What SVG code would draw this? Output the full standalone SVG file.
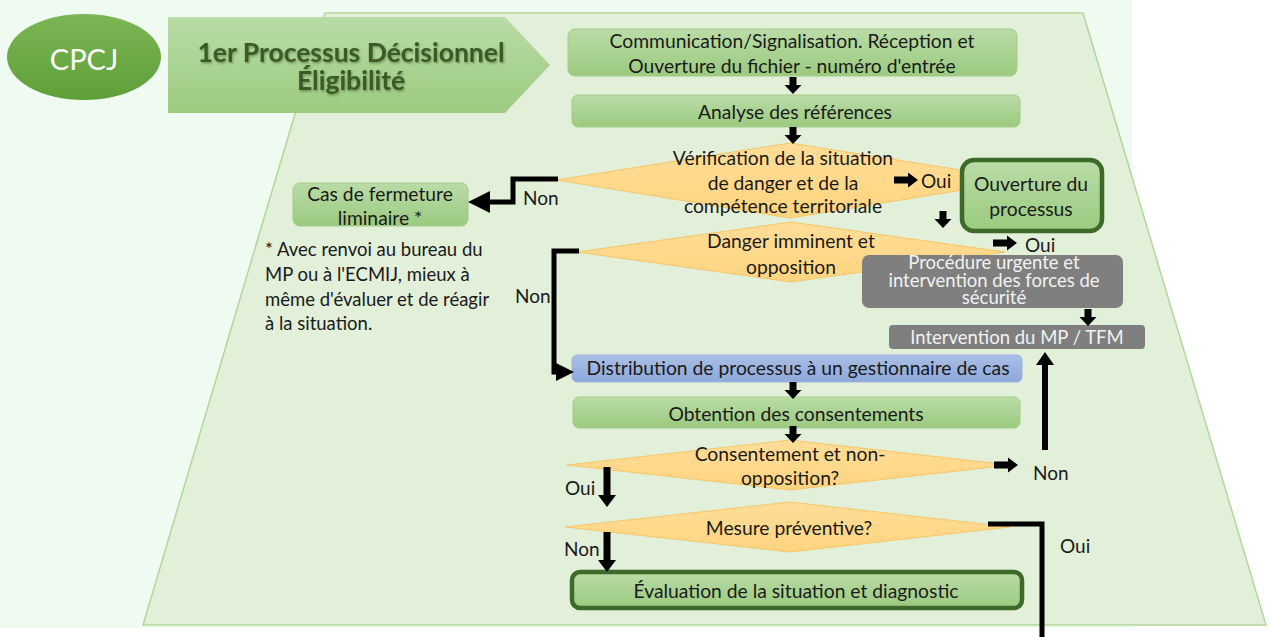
<svg xmlns="http://www.w3.org/2000/svg" xmlns:xlink="http://www.w3.org/1999/xlink" width="1270" height="637" viewBox="0 0 1270 637">
  <defs>
    <linearGradient id="gGreen" x1="0" y1="0" x2="0" y2="1">
      <stop offset="0" stop-color="#badca7"/>
      <stop offset="1" stop-color="#9bca7f"/>
    </linearGradient>
    <linearGradient id="gTitle" x1="0" y1="0" x2="0" y2="1">
      <stop offset="0" stop-color="#b9dca6"/>
      <stop offset="1" stop-color="#9ccb80"/>
    </linearGradient>
    <linearGradient id="gOrange" x1="0" y1="0" x2="0" y2="1">
      <stop offset="0" stop-color="#ffdd98"/>
      <stop offset="1" stop-color="#ffd47f"/>
    </linearGradient>
    <linearGradient id="gBlue" x1="0" y1="0" x2="0" y2="1">
      <stop offset="0" stop-color="#aabfe6"/>
      <stop offset="1" stop-color="#8da8da"/>
    </linearGradient>
    <linearGradient id="gCpcj" x1="0" y1="0" x2="0" y2="1">
      <stop offset="0" stop-color="#7bb654"/>
      <stop offset="1" stop-color="#5f9f38"/>
    </linearGradient>
    <filter id="tshadow" x="-5%" y="-20%" width="110%" height="140%">
      <feDropShadow dx="1" dy="1.5" stdDeviation="1" flood-color="#2a3f1a" flood-opacity="0.45"/>
    </filter>
    <!-- short block arrows, drawn from the origin -->
    <path id="dn" d="M-3.5,0 H3.5 V8 H8.5 L0,17 L-8.5,8 H-3.5 Z"/>
    <path id="rt" d="M0,-3.5 H14 V-7.5 L24,0 L14,7.5 V3.5 H0 Z"/>
    <path id="dnLong" d="M-3.5,0 H3.5 V28 H9 L0,40 L-9,28 H-3.5 Z"/>
    <marker id="head" markerUnits="userSpaceOnUse" markerWidth="24" markerHeight="24" refX="0" refY="11" orient="auto">
      <path d="M0,0 L22,11 L0,22 Z" fill="#000"/>
    </marker>
    <marker id="headSm" markerUnits="userSpaceOnUse" markerWidth="20" markerHeight="20" refX="0" refY="9" orient="auto">
      <path d="M0,0 L18,9 L0,18 Z" fill="#000"/>
    </marker>
    <marker id="headUp" markerUnits="userSpaceOnUse" markerWidth="20" markerHeight="20" refX="0" refY="9" orient="auto">
      <path d="M0,0 L13,9 L0,18 Z" fill="#000"/>
    </marker>
  </defs>
  <style>
    text { font-family: Lato, "Liberation Sans", sans-serif; fill: #1a1a1a; }
    .c { text-anchor: middle; dominant-baseline: central; }
    .l { dominant-baseline: central; }
    .t17 { font-size: 19.3px; }
    .lbl { font-size: 19px; }
    .note { font-size: 18.5px; }
    .box { fill: url(#gGreen); stroke: #a2cd88; stroke-width: 1; }
    .boxStrong { fill: url(#gGreen); stroke: #3d6a29; stroke-width: 4.5; }
    .dia { fill: url(#gOrange); stroke: #f6c768; stroke-width: 1; }
    .gray { fill: #7f7f7f; }
    .grayText { fill: #f2f2f2; font-size: 18.5px; }
    .conn { fill: none; stroke: #000; stroke-width: 5; }
    .blk { fill: #000; }
  </style>

  <!-- page background -->
  <rect x="0" y="0" width="1270" height="637" fill="#ffffff"/>
  <rect x="0" y="0" width="1132" height="628" fill="#effbf1"/>

  <!-- trapezoid panel -->
  <polygon points="325,13 1083,13 1266,625 143,625" fill="#e2efd9" stroke="#b3d79b" stroke-width="1.5"/>

  <!-- CPCJ badge -->
  <g id="cpcj">
    <ellipse cx="84" cy="57" rx="77" ry="43" fill="url(#gCpcj)"/>
    <text class="c" x="84" y="58" style="font-size:29px; fill:#ffffff">CPCJ</text>
  </g>

  <!-- title chevron -->
  <g id="title">
    <polygon points="168,17 505,17 550,65 505,113 168,113" fill="url(#gTitle)"/>
    <g filter="url(#tshadow)">
      <text class="c" x="351" y="52" style="font-size:26.5px; font-weight:bold; fill:#3a5a26">1er Processus Décisionnel</text>
      <text class="c" x="351" y="80" style="font-size:26.5px; font-weight:bold; fill:#3a5a26">Éligibilité</text>
    </g>
  </g>

  <!-- process boxes -->
  <g id="reception">
    <rect class="box" x="568" y="29" width="449" height="47" rx="7"/>
    <text class="c t17" x="792" y="40">Communication/Signalisation. Réception et</text>
    <text class="c t17" x="792" y="65">Ouverture du fichier - numéro d'entrée</text>
  </g>
  <g id="analyse">
    <rect class="box" x="572" y="95" width="448" height="32" rx="6"/>
    <text class="c t17" x="795" y="111">Analyse des références</text>
  </g>

  <g id="verification">
    <polygon class="dia" points="556,180 790,143 1024,180 790,218"/>
    <text class="c t17" x="783" y="157">Vérification de la situation</text>
    <text class="c t17" x="783" y="182">de danger et de la</text>
    <text class="c t17" x="783" y="205">compétence territoriale</text>
  </g>

  <g id="fermeture">
    <rect class="box" x="293" y="183" width="175" height="43" rx="7"/>
    <text class="c t17" x="380" y="193">Cas de fermeture</text>
    <text class="c t17" x="380" y="217">liminaire *</text>
  </g>

  <g id="ouverture">
    <rect class="boxStrong" x="962" y="160" width="140" height="71" rx="12"/>
    <text class="c t17" x="1031" y="183">Ouverture du</text>
    <text class="c t17" x="1031" y="208">processus</text>
  </g>

  <g id="danger">
    <polygon class="dia" points="577,252 791,222 1005,252 791,282"/>
    <text class="c t17" x="791" y="240">Danger imminent et</text>
    <text class="c t17" x="791" y="266">opposition</text>
  </g>

  <g id="urgente">
    <rect class="gray" x="862" y="255" width="261" height="53" rx="7"/>
    <text class="c grayText" x="994" y="262">Procédure urgente et</text>
    <text class="c grayText" x="994" y="280">intervention des forces de</text>
    <text class="c grayText" x="994" y="297">sécurité</text>
  </g>

  <g id="intervention">
    <rect class="gray" x="889" y="325" width="256" height="24" rx="4"/>
    <text class="c grayText" x="1017" y="337">Intervention du MP / TFM</text>
  </g>

  <g id="distribution">
    <rect x="572" y="355" width="450" height="27" rx="5" fill="url(#gBlue)" stroke="#9fb5e0" stroke-width="1"/>
    <text class="c t17" x="798" y="367">Distribution de processus à un gestionnaire de cas</text>
  </g>

  <g id="obtention">
    <rect class="box" x="573" y="397" width="447" height="31" rx="6"/>
    <text class="c t17" x="796" y="413">Obtention des consentements</text>
  </g>

  <g id="consentement">
    <polygon class="dia" points="567,465 790,440 1010,465 790,490"/>
    <text class="c t17" x="790" y="453">Consentement et non-</text>
    <text class="c t17" x="790" y="477">opposition?</text>
  </g>

  <g id="mesure">
    <polygon class="dia" points="565,527 790,502 1010,527 790,552"/>
    <text class="c t17" x="789" y="527">Mesure préventive?</text>
  </g>

  <g id="evaluation">
    <rect class="boxStrong" x="572" y="572" width="450" height="36" rx="8"/>
    <text class="c t17" x="796" y="590">Évaluation de la situation et diagnostic</text>
  </g>

  <!-- connectors, drawn over the shapes -->
  <g id="connectors">
    <use xlink:href="#dn" href="#dn" x="793" y="77" class="blk"/>
    <use xlink:href="#dn" href="#dn" x="793" y="127" class="blk"/>
    <path class="conn" d="M558,179 H513 V202 H490" marker-end="url(#head)"/>
    <use xlink:href="#rt" href="#rt" x="894" y="180" class="blk"/>
    <use xlink:href="#dn" href="#dn" x="943" y="211" class="blk"/>
    <use xlink:href="#rt" href="#rt" x="993" y="243" class="blk"/>
    <path class="conn" d="M579,251 H554 V372 H556" marker-end="url(#headSm)"/>
    <use xlink:href="#dn" href="#dn" x="1088" y="309" class="blk"/>
    <use xlink:href="#dn" href="#dn" x="793" y="382" class="blk"/>
    <use xlink:href="#dn" href="#dn" x="793" y="426" class="blk"/>
    <use xlink:href="#rt" href="#rt" x="994" y="465" class="blk"/>
    <path class="conn" style="stroke-width:6" d="M1045,450 V365" marker-end="url(#headUp)"/>
    <use xlink:href="#dnLong" href="#dnLong" x="607" y="467" class="blk"/>
    <use xlink:href="#dnLong" href="#dnLong" x="607" y="532" class="blk"/>
    <path class="conn" d="M988,524 H1042 V637"/>
  </g>

  <!-- branch labels -->
  <g id="labels">
    <text class="l lbl" x="523" y="197">Non</text>
    <text class="l lbl" x="921" y="180">Oui</text>
    <text class="l lbl" x="1025" y="244">Oui</text>
    <text class="l lbl" x="515" y="295">Non</text>
    <text class="l lbl" x="565" y="487">Oui</text>
    <text class="l lbl" x="1033" y="472">Non</text>
    <text class="l lbl" x="564" y="548">Non</text>
    <text class="l lbl" x="1060" y="545">Oui</text>
  </g>

  <!-- footnote -->
  <g id="footnote">
    <text class="l note" x="265" y="249">* Avec renvoi au bureau du</text>
    <text class="l note" x="265" y="274">MP ou à l'ECMIJ, mieux à</text>
    <text class="l note" x="265" y="299">même d'évaluer et de réagir</text>
    <text class="l note" x="265" y="323">à la situation.</text>
  </g>
</svg>
